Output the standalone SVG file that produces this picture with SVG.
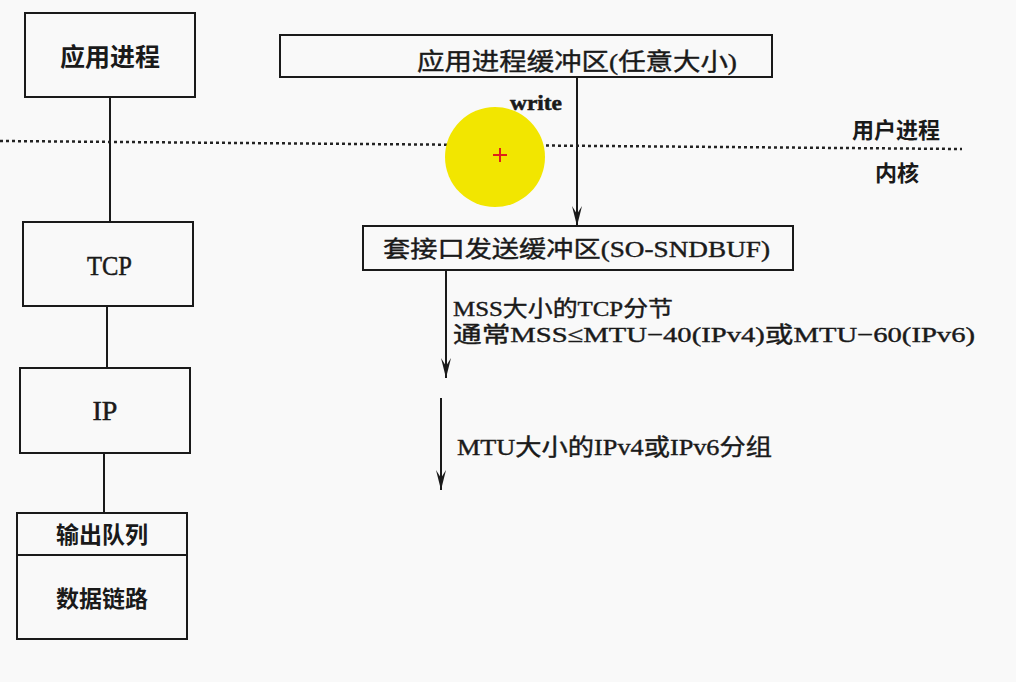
<svg xmlns="http://www.w3.org/2000/svg" width="1016" height="682" viewBox="0 0 1016 682">
<style>
.box{fill:none;stroke:#1a1a1a;stroke-width:2}
.ln{stroke:#1a1a1a;stroke-width:2;fill:none}
.cjkb{font-family:"Noto Sans CJK SC","Noto Sans",sans-serif;font-weight:bold;fill:#1a1a1a}
.cjk{font-family:"Liberation Serif","Noto Sans CJK SC",serif;fill:#1a1a1a;stroke:#1a1a1a;stroke-width:0.4}
.lat{font-family:"Liberation Serif",serif;fill:#1a1a1a;stroke:#1a1a1a;stroke-width:0.5}
</style>
<defs>
<marker id="ah" viewBox="0 0 20 10" refX="20" refY="5" markerWidth="20" markerHeight="10" markerUnits="userSpaceOnUse" orient="auto">
<path d="M0,0 L20,5 L0,10 L8,5 Z" fill="#1a1a1a"/>
</marker>
</defs>
<rect width="1016" height="682" fill="#f9f9f9"/>
<g id="connectors">
<line class="ln" x1="110" y1="97" x2="110" y2="222"/>
<line class="ln" x1="107" y1="306" x2="107" y2="368"/>
<line class="ln" x1="104" y1="453" x2="104" y2="513"/>
<line class="ln" x1="577" y1="78" x2="577" y2="226" marker-end="url(#ah)"/>
<line class="ln" x1="446" y1="270" x2="446" y2="378" marker-end="url(#ah)"/>
<line class="ln" x1="441" y1="398" x2="441" y2="490" marker-end="url(#ah)"/>
</g>
<g id="boundary">
<line x1="0" y1="141" x2="962" y2="149" stroke="#222" stroke-width="2.5" stroke-dasharray="3,3"/>
<text class="cjkb" x="896" y="138" font-size="22" text-anchor="middle">用户进程</text>
<text class="cjkb" x="897" y="181" font-size="22" text-anchor="middle">内核</text>
</g>
<g id="app">
<rect class="box" x="25" y="13" width="170" height="84"/>
<text class="cjkb" x="110" y="66" font-size="25" text-anchor="middle">应用进程</text>
</g>
<g id="tcp">
<rect class="box" x="23" y="222" width="170" height="84"/>
<text class="lat" x="87" y="275" font-size="28" textLength="45" lengthAdjust="spacingAndGlyphs">TCP</text>
</g>
<g id="ip">
<rect class="box" x="20" y="368" width="170" height="85"/>
<text class="lat" x="105" y="420" font-size="28" text-anchor="middle">IP</text>
</g>
<g id="datalink">
<rect class="box" x="17" y="513" width="170" height="126"/>
<line class="ln" x1="17" y1="555" x2="187" y2="555"/>
<text class="cjkb" x="102" y="543" font-size="23" text-anchor="middle">输出队列</text>
<text class="cjkb" x="102" y="607" font-size="23" text-anchor="middle">数据链路</text>
</g>
<g id="appbuf">
<rect class="box" x="280" y="35" width="492" height="42"/>
<text class="cjk" x="417" y="70" font-size="24" textLength="320" lengthAdjust="spacingAndGlyphs">应用进程缓冲区(任意大小)</text>
</g>
<g id="write-label">
<text class="lat" x="510" y="110" font-size="20" font-weight="bold" textLength="52" lengthAdjust="spacingAndGlyphs">write</text>
</g>
<g id="sockbuf">
<rect class="box" x="363" y="226" width="430" height="44"/>
<text class="cjk" x="383" y="257" font-size="23" textLength="387" lengthAdjust="spacingAndGlyphs">套接口发送缓冲区(SO-SNDBUF)</text>
</g>
<g id="labels">
<text class="cjk" x="453" y="316" font-size="22" textLength="220" lengthAdjust="spacingAndGlyphs">MSS大小的TCP分节</text>
<text class="cjk" x="453" y="342" font-size="22" textLength="522" lengthAdjust="spacingAndGlyphs">通常MSS≤MTU−40(IPv4)或MTU−60(IPv6)</text>
<text class="cjk" x="457" y="455" font-size="23" textLength="315" lengthAdjust="spacingAndGlyphs">MTU大小的IPv4或IPv6分组</text>
</g>
<g id="cursor">
<circle cx="495" cy="157" r="50" fill="#f2e600"/>
<path d="M493,155 h14 M500,148 v14" stroke="#e0201a" stroke-width="2"/>
</g>
</svg>
